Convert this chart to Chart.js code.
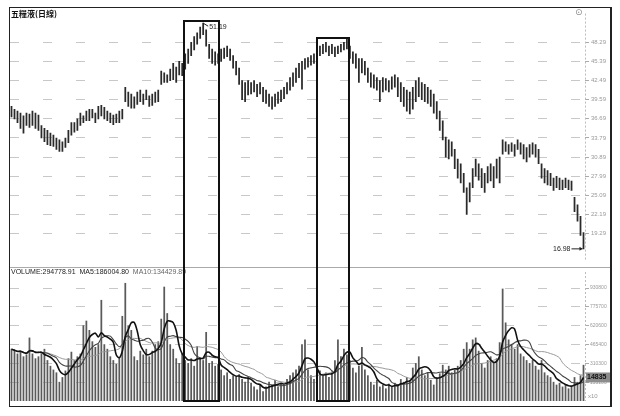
<!DOCTYPE html>
<html>
<head>
<meta charset="utf-8">
<script src="https://cdn.jsdelivr.net/npm/chart.js@4.4.1/dist/chart.umd.min.js"></script>
<style>
html,body{margin:0;padding:0;background:#fff;}
#wrap{position:relative;width:620px;height:416px;overflow:hidden;background:#fff;font-family:"Liberation Sans",Arial,sans-serif;}
#frame{position:absolute;left:9px;top:7px;width:603px;height:400px;box-sizing:border-box;border:1.5px solid #222;border-right-width:2px;}
canvas{position:absolute;}
#cPrice{left:10px;top:8px;}
#cVol{left:10px;top:268px;}
#sep{position:absolute;left:10px;top:267px;width:601px;height:1px;background:#aaa;}
#title{position:absolute;left:11px;top:8px;font:bold 8px "Noto Sans CJK TC";color:#111;}
#gear{position:absolute;left:575px;top:7px;font:9px "DejaVu Sans";color:#888;}
#volHead{position:absolute;left:11px;top:268px;font:7px "Liberation Sans";color:#222;white-space:nowrap;}
#volHead .g{color:#666;}
.box{position:absolute;border:2px solid #111;box-sizing:border-box;}
</style>
</head>
<body>
<div id="wrap">
  <canvas id="cPrice" width="601" height="259"></canvas>
  <canvas id="cVol" width="601" height="137"></canvas>
  <div id="sep"></div>
  <div id="frame"></div>
  <div id="title">五糧液(日線)</div>
  <div id="gear">⊙</div>
  <div id="volHead">VOLUME:294778.91&nbsp; MA5:186004.80&nbsp; <span class="g">MA10:134429.89</span></div>
</div>
<script>
// daily high / low (yuan)
const high = [
  38.58,38.14,37.85,37.56,37.13,37.56,37.42,37.85,37.56,37.27,
  35.68,35.24,34.95,34.52,34.23,33.79,33.50,33.21,33.79,34.95,
  36.11,36.11,36.69,37.56,37.13,37.85,38.14,38.14,37.56,38.58,
  38.72,38.43,37.85,37.56,37.27,37.42,37.85,38.14,41.48,40.75,
  40.46,40.03,40.75,41.04,40.46,41.04,40.17,40.46,40.75,41.04,
  43.94,43.65,43.36,44.23,45.10,44.52,45.39,45.10,46.55,47.28,
  48.29,49.16,49.74,50.61,51.19,50.18,48.00,47.28,46.84,46.55,
  47.28,47.42,47.71,47.28,46.26,45.39,44.38,42.49,42.20,42.49,
  42.20,42.49,41.91,42.20,41.48,41.04,40.46,40.03,40.46,40.75,
  41.04,41.48,42.20,42.93,43.65,44.38,45.10,45.39,45.83,45.97,
  46.26,46.55,46.99,47.71,48.00,48.29,47.71,48.00,47.57,47.71,
  48.00,48.29,48.73,47.71,46.84,46.55,45.83,45.83,45.39,44.38,
  43.65,43.36,42.93,42.49,42.93,42.78,42.49,43.07,43.36,42.93,
  42.20,41.48,41.04,40.75,41.48,42.49,42.93,42.20,41.91,41.48,
  41.04,40.46,39.30,37.85,36.40,33.94,33.50,33.21,32.05,30.60,
  29.88,28.43,26.25,26.98,29.15,30.60,29.88,29.15,28.43,29.44,
  29.88,29.44,30.60,30.89,33.50,33.21,32.78,33.07,32.78,33.50,
  33.07,32.78,32.34,32.78,33.07,32.78,32.05,29.88,29.15,28.86,
  28.43,27.70,27.99,27.70,27.41,27.70,27.41,27.27,24.80,23.64,
  21.90,19.44
];
const low = [
  36.98,36.69,36.11,35.24,34.52,35.68,35.39,35.68,35.24,34.95,
  33.79,33.21,32.78,32.63,32.49,32.05,31.76,31.76,32.34,33.07,
  34.23,34.66,34.95,35.68,36.11,36.40,36.40,36.84,36.11,36.69,
  37.13,36.69,36.40,36.11,35.82,36.11,36.11,36.69,39.30,38.58,
  38.29,38.29,38.87,39.30,38.87,39.59,38.58,38.72,39.16,39.30,
  41.91,42.20,42.20,42.49,42.64,42.20,43.36,43.22,44.23,45.10,
  46.26,47.13,48.00,48.87,49.45,47.71,45.83,45.10,44.81,45.10,
  45.39,45.83,46.12,45.54,44.38,43.36,41.91,39.59,39.30,40.32,
  40.46,40.75,40.03,40.46,39.30,39.01,38.58,38.14,38.58,39.01,
  39.30,39.74,40.46,41.04,41.62,42.20,42.93,41.19,44.23,44.52,
  44.81,45.10,45.54,46.26,46.55,46.84,46.26,46.55,46.12,46.55,
  46.84,47.13,47.28,45.83,45.10,44.38,42.20,43.65,43.36,42.20,
  41.48,41.33,41.04,39.30,40.75,41.04,40.75,41.19,41.48,40.03,
  39.30,38.58,37.85,37.42,38.14,39.30,40.03,39.59,39.30,39.01,
  38.58,37.56,36.69,34.95,33.50,30.89,30.60,31.04,29.15,27.70,
  26.98,25.53,22.19,24.08,26.25,27.99,27.41,26.25,25.53,26.98,
  27.27,26.25,27.70,26.98,31.33,31.76,31.33,31.76,31.04,32.05,
  31.33,30.60,30.17,30.89,31.33,30.89,29.88,27.70,26.98,26.69,
  26.54,25.82,26.25,25.96,25.96,26.25,25.96,25.82,22.63,21.18,
  19.00,16.98
];
// daily volume, thousands
const volume = [
  427,411,388,411,365,380,520,388,349,365,
  388,427,334,287,256,233,155,194,248,349,
  403,334,365,388,621,659,582,489,442,465,
  830,465,427,365,334,303,349,698,970,621,
  582,365,334,411,380,427,365,411,465,489,
  675,939,721,465,427,349,310,388,334,310,
  349,287,450,349,334,566,310,326,287,303,
  256,209,233,178,209,194,217,178,155,194,
  147,116,93,132,78,116,155,132,171,116,
  147,132,178,209,233,256,287,465,504,256,
  209,178,225,248,209,233,194,240,334,504,
  365,427,380,334,272,233,287,442,256,209,
  155,132,171,116,132,101,140,116,147,132,
  178,155,194,171,272,310,365,256,209,233,
  171,132,194,225,295,256,287,233,256,287,
  334,427,481,427,504,520,411,310,272,334,
  365,310,349,481,923,644,504,465,427,465,
  388,365,334,310,334,287,256,334,233,209,
  194,155,132,147,116,132,101,116,194,155,
  209,295
];
const priceTicks = [48.29, 45.39, 42.49, 39.59, 36.69, 33.79, 30.89, 27.99, 25.09, 22.19, 19.29];
const volTicks = [155.1, 310.3, 465.4, 620.6, 775.7, 930.8];
const maxLabel = '51.19';
const minLabel = '16.98';
const lastMarker = '14835';
// highlighted ranges: bar index span and top price
const boxes = [
  {from: 57.26, to: 69.62, top: 51.62},
  {from: 101.67, to: 113.19, top: 49.16}
];

const labels = high.map((_, i) => i + 1);

function ma(arr, n){
  return arr.map((_, i) => {
    const s = arr.slice(Math.max(0, i - n + 1), i + 1);
    return s.reduce((a, b) => a + b, 0) / s.length;
  });
}

const axisLine = {
  id: 'axisLine',
  afterDraw(chart){
    const {ctx, chartArea: a} = chart;
    ctx.save();
    ctx.strokeStyle = '#bbb';
    ctx.lineWidth = 1;
    ctx.setLineDash([2, 2]);
    ctx.beginPath();
    ctx.moveTo(a.right + 0.5, a.top);
    ctx.lineTo(a.right + 0.5, a.bottom);
    ctx.stroke();
    ctx.restore();
  }
};

const priceNotes = {
  id: 'priceNotes',
  afterDatasetsDraw(chart){
    const {ctx, scales: {x, y}} = chart;
    const hi = high.indexOf(Math.max(...high));
    const lo = low.indexOf(Math.min(...low));
    ctx.save();
    ctx.strokeStyle = '#222';
    ctx.fillStyle = '#222';
    ctx.lineWidth = 1;
    ctx.font = '7px "Liberation Sans"';
    // max
    let px = x.getPixelForValue(hi), py = y.getPixelForValue(high[hi]);
    ctx.beginPath();
    ctx.moveTo(px, py);
    ctx.lineTo(px + 5, py + 3);
    ctx.stroke();
    ctx.textBaseline = 'middle';
    ctx.textAlign = 'left';
    ctx.fillText(maxLabel, px + 6, py + 4);
    // min
    px = x.getPixelForValue(lo); py = y.getPixelForValue(low[lo]);
    ctx.beginPath();
    ctx.moveTo(px - 12, py);
    ctx.lineTo(px - 1, py);
    ctx.stroke();
    ctx.beginPath();
    ctx.moveTo(px - 1, py);
    ctx.lineTo(px - 4, py - 2);
    ctx.lineTo(px - 4, py + 2);
    ctx.closePath();
    ctx.fill();
    ctx.textAlign = 'right';
    ctx.fillText(minLabel, px - 13, py);
    ctx.restore();
  }
};

const priceChart = new Chart(document.getElementById('cPrice'), {
  type: 'bar',
  data: {
    labels,
    datasets: [{
      data: high.map((h, i) => [low[i], h]),
      backgroundColor: '#2a2a2a',
      barThickness: 1.1
    }]
  },
  options: {
    responsive: false,
    animation: false,
    layout: {padding: 0},
    plugins: {legend: {display: false}, tooltip: {enabled: false}},
    scales: {
      x: {display: false, offset: true},
      y: {
        position: 'right',
        min: 15.08, max: 52.64,
        afterBuildTicks: s => { s.ticks = priceTicks.map(v => ({value: v})); },
        afterFit: s => { s.width = 26; },
        grid: {color: '#c8c8c8', tickLength: 4, tickColor: '#aaa', tickBorderDash: []},
        border: {display: false, dash: [9, 24]},
        ticks: {font: {size: 6, family: 'Liberation Sans'}, color: '#999', padding: 2,
                callback: v => v.toFixed(2)}
      }
    }
  },
  plugins: [axisLine, priceNotes]
});

const ma5 = ma(volume, 5), ma10 = ma(volume, 10), ma20 = ma(volume, 20);

const volMarker = {
  id: 'volMarker',
  afterDraw(chart){
    const {ctx, chartArea: a, scales: {y}} = chart;
    const py = y.getPixelForValue(ma5[ma5.length - 1]);
    ctx.save();
    ctx.fillStyle = '#8c8c8c';
    ctx.fillRect(a.right + 1, py - 5, 24, 10);
    ctx.fillStyle = '#111';
    ctx.font = 'bold 7px "Liberation Sans"';
    ctx.textBaseline = 'middle';
    ctx.fillText(lastMarker, a.right + 2, py);
    ctx.fillStyle = '#999';
    ctx.font = '6px "Liberation Sans"';
    ctx.fillText('x10', a.right + 3, a.bottom - 5);
    ctx.restore();
  }
};

const volChart = new Chart(document.getElementById('cVol'), {
  type: 'bar',
  data: {
    labels,
    datasets: [
      {type: 'line', data: ma5, borderColor: '#111', borderWidth: 1.6, pointRadius: 0, tension: 0.3, order: 0},
      {type: 'line', data: ma10, borderColor: '#444', borderWidth: 1.1, pointRadius: 0, tension: 0.3, order: 1},
      {type: 'line', data: ma20, borderColor: '#999', borderWidth: 1, pointRadius: 0, tension: 0.3, order: 2},
      {data: volume, backgroundColor: '#5a5a5a', barThickness: 1.1, order: 3}
    ]
  },
  options: {
    responsive: false,
    animation: false,
    layout: {padding: 0},
    plugins: {legend: {display: false}, tooltip: {enabled: false}},
    scales: {
      x: {display: false, offset: true},
      y: {
        position: 'right',
        min: 0, max: 1062.7,
        afterBuildTicks: s => { s.ticks = volTicks.map(v => ({value: v})); },
        afterFit: s => { s.width = 26; },
        grid: {color: '#c8c8c8', tickLength: 4, tickColor: '#aaa', tickBorderDash: []},
        border: {display: false, dash: [9, 24]},
        ticks: {font: {size: 5, family: 'Liberation Sans'}, color: '#999', padding: 1,
                callback: v => String(Math.round(v * 1000))}
      }
    }
  },
  plugins: [axisLine, volMarker]
});

// highlight boxes, placed through the price chart's scales
const wrap = document.getElementById('wrap');
const xs = priceChart.scales.x, ys = priceChart.scales.y;
const bottom = 268 + volChart.chartArea.bottom + 1;
boxes.forEach(b => {
  const d = document.createElement('div');
  d.className = 'box';
  const l = 10 + xs.getPixelForValue(b.from);
  const r = 10 + xs.getPixelForValue(b.to);
  const t = 8 + ys.getPixelForValue(b.top);
  d.style.left = l + 'px';
  d.style.top = t + 'px';
  d.style.width = (r - l) + 'px';
  d.style.height = (bottom - t) + 'px';
  wrap.appendChild(d);
});
</script>
</body>
</html>
